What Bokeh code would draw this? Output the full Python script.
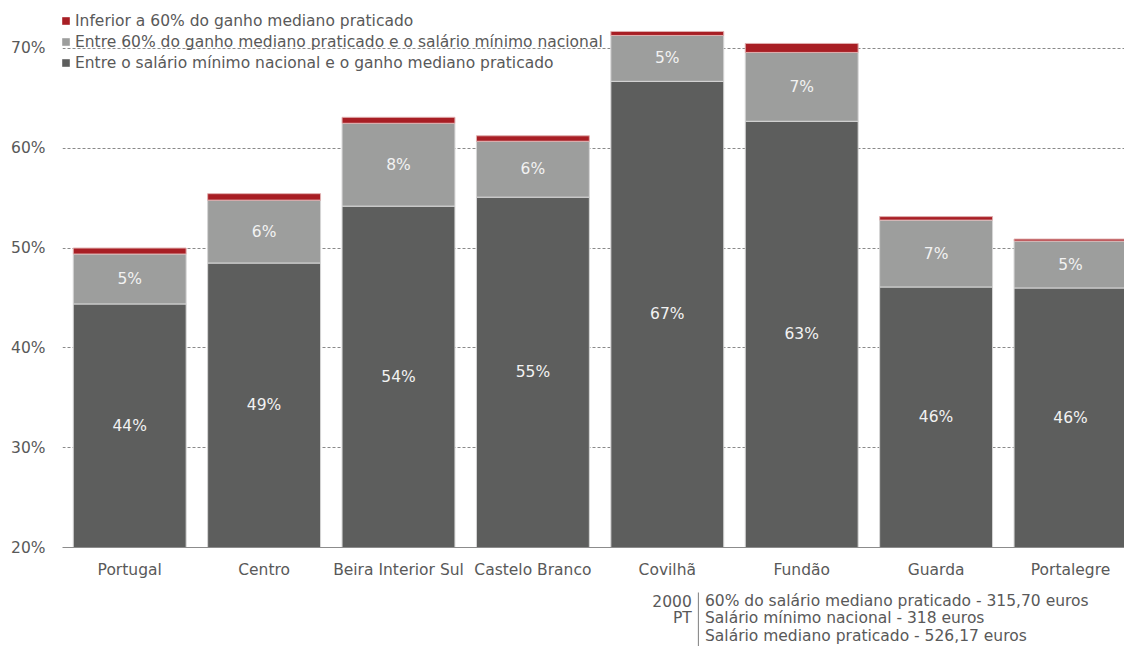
import numpy as np
from bokeh.plotting import figure
from bokeh.layouts import column
from bokeh.models import Range1d, FixedTicker, Legend, LegendItem, ColumnDataSource
from bokeh.core.properties import value
from bokeh.embed import file_html
from bokeh.resources import INLINE

categories = ["Portugal", "Centro", "Beira Interior Sul", "Castelo Branco",
              "Covilhã", "Fundão", "Guarda", "Portalegre"]
dark_vals = [44.4, 48.5, 54.2, 55.1, 66.7, 62.7, 46.1, 46.0]
light_vals = [5.0, 6.3, 8.3, 5.6, 4.6, 6.9, 6.7, 4.7]
red_vals = [0.6, 0.65, 0.6, 0.55, 0.4, 0.9, 0.35, 0.2]
dark_labels = ["44%", "49%", "54%", "55%", "67%", "63%", "46%", "46%"]
light_labels = ["5%", "6%", "8%", "6%", "5%", "7%", "7%", "5%"]
series_names = ["Inferior a 60% do ganho mediano praticado",
                "Entre 60% do ganho mediano praticado e o salário mínimo nacional",
                "Entre o salário mínimo nacional e o ganho mediano praticado"]
y_ticks = [20, 30, 40, 50, 60, 70]
y_tick_labels = ["20%", "30%", "40%", "50%", "60%", "70%"]
note_left = ["2000", "PT"]
note_lines = ["60% do salário mediano praticado -  315,70 euros",
              "Salário mínimo nacional - 318 euros",
              "Salário mediano praticado - 526,17 euros"]

FONT = "DejaVu Sans"
FS = "15.5px"
TXT = "#595959"
C_RED = "#A81E24"
C_LIGHT = "#9D9E9D"
C_DARK = "#5D5E5D"

x = np.arange(len(categories))
dark = np.array(dark_vals)
light = np.array(light_vals)
red = np.array(red_vals)
Y0 = 20

src = ColumnDataSource(dict(
    x=x,
    d_top=dark,
    l_bot=dark, l_top=dark + light,
    r_bot=dark + light, r_top=dark + light + red,
    d_mid=(Y0 + dark) / 2,
    l_mid=dark + light / 2,
    d_lab=dark_labels, l_lab=light_labels,
))

W = 1124
p = figure(width=W, height=587, output_backend="svg", toolbar_location=None,
           x_range=Range1d(-0.5, -0.5 + 1062 / 134.4), y_range=Range1d(Y0, 73.8),
           min_border_left=62, min_border_right=0, min_border_top=10,
           min_border_bottom=40, outline_line_color=None)

bw = 0.84
p.vbar(x="x", bottom=0, top="d_top", width=bw, source=src, fill_color=C_DARK,
       line_color="#d6d6d6", line_width=1)
p.vbar(x="x", bottom="l_bot", top="l_top", width=bw, source=src, fill_color=C_LIGHT,
       line_color="#d6d6d6", line_width=1)
p.vbar(x="x", bottom="r_bot", top="r_top", width=bw, source=src, fill_color=C_RED,
       line_color="#e0b0b0", line_width=1)

p.text(x="x", y="d_mid", text="d_lab", source=src, text_align="center",
       text_baseline="middle", text_color="#F2F2F2", text_font=value(FONT),
       text_font_size=FS)
p.text(x="x", y="l_mid", text="l_lab", source=src, text_align="center",
       text_baseline="middle", text_color="#F2F2F2", text_font=value(FONT),
       text_font_size=FS)

# grid / axes
p.xgrid.grid_line_color = None
p.ygrid.ticker = FixedTicker(ticks=y_ticks[1:])
p.ygrid.grid_line_color = "#8a8a8a"
p.ygrid.grid_line_dash = "3 2"
p.ygrid.grid_line_width = 1

p.yaxis.ticker = FixedTicker(ticks=y_ticks)
p.yaxis.major_label_overrides = {t: l for t, l in zip(y_ticks, y_tick_labels)}
p.yaxis.axis_line_color = None
p.yaxis.major_tick_line_color = None
p.yaxis.minor_tick_line_color = None
p.yaxis.major_label_standoff = 11
p.yaxis.major_label_text_font = FONT
p.yaxis.major_label_text_font_size = FS
p.yaxis.major_label_text_color = TXT

p.xaxis.ticker = FixedTicker(ticks=list(x))
p.xaxis.major_label_overrides = {int(i): c for i, c in zip(x, categories)}
p.xaxis.axis_line_color = "#8c8c8c"
p.xaxis.major_tick_line_color = None
p.xaxis.minor_tick_line_color = None
p.xaxis.major_label_standoff = 7
p.xaxis.major_label_text_font = FONT
p.xaxis.major_label_text_font_size = FS
p.xaxis.major_label_text_color = TXT

# legend with square markers
items = []
for name, col in zip(series_names, [C_RED, C_LIGHT, C_DARK]):
    r = p.scatter(x=[-10], y=[-10], marker="square", size=9, fill_color=col,
                  line_color=None)
    items.append(LegendItem(label=name, renderers=[r]))
legend = Legend(items=items, location=(-6, 474), orientation="vertical",
                glyph_width=19, glyph_height=21, label_height=21,
                label_standoff=0, spacing=0, padding=0, margin=0,
                background_fill_alpha=0, border_line_color=None,
                label_text_font=FONT, label_text_font_size=FS,
                label_text_color=TXT)
p.add_layout(legend)

# bottom notes panel (page-pixel coordinates)
H2 = 646 - 587
n = figure(width=W, height=H2, output_backend="svg", toolbar_location=None,
           x_range=Range1d(24, W + 24), y_range=Range1d(646, 587),
           x_axis_location=None, y_axis_location=None,
           min_border_left=0, min_border_right=0, min_border_top=0,
           min_border_bottom=0, outline_line_color=None)
n.grid.grid_line_color = None
row_y = [600, 617.5, 635]
n.text(x=[690] * len(note_left), y=row_y[:len(note_left)], text=note_left,
       text_align="right", text_baseline="middle", text_color=TXT,
       text_font=value(FONT), text_font_size=FS)
n.text(x=[704] * len(note_lines), y=row_y, text=note_lines,
       text_align="left", text_baseline="middle", text_color=TXT,
       text_font=value(FONT), text_font_size=FS)
n.segment(x0=[697], y0=[592], x1=[697], y1=[646], line_color="#7f7f7f",
          line_width=1)

layout = column(p, n, spacing=0)
open("out.html", "w").write(file_html(layout, INLINE))
